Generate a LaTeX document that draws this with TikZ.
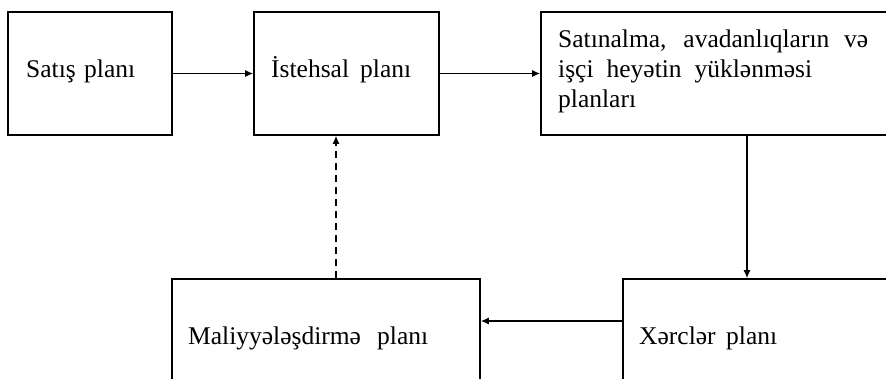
\documentclass[tikz,border=0pt]{standalone}
\usepackage{fontspec}
\setmainfont{Liberation Serif}
\usetikzlibrary{arrows.meta}
\begin{document}
\begin{tikzpicture}[x=1pt,y=-1pt,
  box/.style={draw,line width=1.6pt,rectangle,inner sep=0pt},
  txt/.style={inner sep=0pt,anchor=base west,align=left,
    font={\fontsize{25.5}{30}\selectfont}},
  arr/.style={line width=1.4pt,-{Latex[length=8pt,width=7pt]}},
  darr/.style={arr,dash pattern=on 7pt off 5pt}]
\useasboundingbox (0,0) rectangle (886,378);
\clip (0,0) rectangle (886,378);
% boxes
\node[box,minimum width=164pt,minimum height=123pt] (A) at (90,73.5) {};
\node[box,minimum width=185pt,minimum height=123pt] (B) at (346.5,73.5) {};
\node[box,minimum width=370pt,minimum height=123pt] (C) at (726,73.5) {};
\node[box,minimum width=300pt,minimum height=130pt] (D) at (773,344) {};
\node[box,minimum width=308pt,minimum height=130pt] (E) at (326,344) {};
% texts
\node[txt] (tA) at (26,77) {\makebox[109pt][s]{Satış planı}};
\node[txt] (tB) at (271,77) {\makebox[140pt][s]{İstehsal planı}};
\node[txt] (tC1) at (558,47) {\makebox[310pt][s]{Satınalma, avadanlıqların və}};
\node[txt] (tC2) at (558,77) {\makebox[254pt][s]{işçi heyətin yüklənməsi}};
\node[txt] (tC3) at (558,107) {planları};
\node[txt] (tD) at (639,344) {\makebox[138pt][s]{Xərclər planı}};
\node[txt] (tE) at (188,344) {\makebox[240pt][s]{Maliyyələşdirmə planı}};
% connector coordinates
\coordinate (cx) at (747,200);
\coordinate (dy) at (600,321);
\coordinate (ex) at (336,200);
% connectors
\draw[arr] (A.east) -- (B.west);
\draw[arr] (B.east) -- (C.west);
\draw[arr] (C.south -| cx) -- (D.north -| cx);
\draw[arr] (D.west |- dy) -- (E.east |- dy);
\draw[darr] (E.north -| ex) -- (B.south -| ex);
\end{tikzpicture}
\end{document}
